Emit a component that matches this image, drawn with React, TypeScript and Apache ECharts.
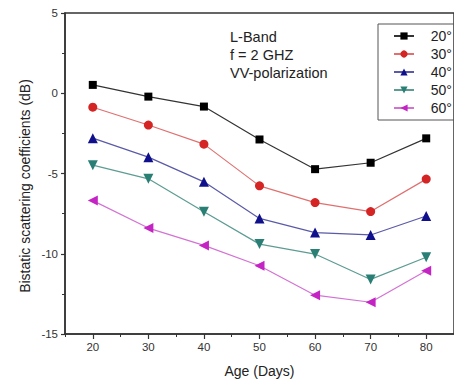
import React, { useEffect, useRef } from "react";
import * as echarts from "echarts";

const ages = [20, 30, 40, 50, 60, 70, 80];
const angleNames = ["20°", "30°", "40°", "50°", "60°"];
const s20 = [0.52, -0.21, -0.83, -2.88, -4.73, -4.33, -2.81];
const s30 = [-0.87, -1.98, -3.17, -5.77, -6.81, -7.37, -5.35];
const s40 = [-2.8, -3.98, -5.52, -7.8, -8.68, -8.83, -7.65];
const s50 = [-4.48, -5.33, -7.38, -9.4, -10.02, -11.6, -10.22];
const s60 = [-6.69, -8.4, -9.48, -10.75, -12.58, -13.02, -11.06];
const allSeries = [s20, s30, s40, s50, s60];

const markerColors = ["#000000", "#d42424", "#10108c", "#2a7f74", "#c424c4"];
const lineColors = ["#333333", "#e07070", "#5a5aa8", "#5c9c92", "#d472d4"];
const symbols = ["rect", "circle", "triangle", "triangle", "triangle"];
const symbolSizes = [8, 9, 10, 10, 10];
const symbolRotates = [0, 0, 0, 180, 90];

const FONT = "'Liberation Sans', Arial, sans-serif";

const gridBox = { left: 65, top: 13, bottom: 49, right: -5 };

export default function App() {
  const ref = useRef<HTMLDivElement>(null);
  useEffect(() => {
    if (!ref.current) return;
    const chart = echarts.init(ref.current, null, { renderer: "svg" });
    chart.setOption({
      animation: false,
      backgroundColor: "#ffffff",
      textStyle: { fontFamily: FONT },
      grid: [
        { ...gridBox, show: true, borderColor: "#333", borderWidth: 1.5 },
        { ...gridBox, show: false },
      ],
      legend: {
        orient: "vertical",
        left: 378,
        top: 24,
        padding: [5, 60, 5, 15],
        borderColor: "#555",
        borderWidth: 1,
        itemWidth: 20,
        itemHeight: 9,
        itemGap: 4,
        formatter: (name: string) => "   " + name,
        textStyle: { fontSize: 14, color: "#222", fontFamily: FONT },
        data: angleNames,
      },
      xAxis: [
        {
          type: "value",
          gridIndex: 0,
          min: 15,
          max: 85,
          interval: 5,
          name: "Age (Days)",
          nameLocation: "middle",
          nameGap: 30,
          nameTextStyle: { fontSize: 14, color: "#222", fontFamily: FONT },
          axisLine: { show: true, onZero: false, lineStyle: { color: "#333", width: 1.5 } },
          axisTick: { show: true, inside: false, length: 3, lineStyle: { color: "#333", width: 1 } },
          splitLine: { show: false },
          axisLabel: {
            fontSize: 11.5,
            color: "#333",
            margin: 7,
            fontFamily: FONT,
            customValues: ages,
          },
        },
        {
          type: "value",
          gridIndex: 1,
          min: 15,
          max: 85,
          position: "bottom",
          axisLine: { show: false, onZero: false },
          axisTick: {
            show: true,
            inside: false,
            length: 5,
            customValues: ages,
            lineStyle: { color: "#333", width: 1.2 },
          },
          axisLabel: { show: false },
          splitLine: { show: false },
        },
      ],
      yAxis: [
        {
          type: "value",
          gridIndex: 0,
          min: -15,
          max: 5,
          interval: 5,
          axisLine: { show: true, onZero: false, lineStyle: { color: "#333", width: 1.5 } },
          axisTick: { show: true, inside: false, length: 4, lineStyle: { color: "#333", width: 1.2 } },
          minorTick: { show: true, splitNumber: 2, length: 3, lineStyle: { color: "#333", width: 1 } },
          splitLine: { show: false },
          axisLabel: { fontSize: 11.5, color: "#333", margin: 7, fontFamily: FONT },
        },
        {
          type: "value",
          gridIndex: 1,
          min: -15,
          max: 5,
          axisLine: { show: false, onZero: false },
          axisTick: { show: false },
          axisLabel: { show: false },
          splitLine: { show: false },
        },
      ],
      graphic: [
        {
          type: "text",
          left: 230,
          top: 28,
          style: {
            text: "L-Band\nf = 2 GHZ\nVV-polarization",
            font: `14.5px ${FONT}`,
            fill: "#222",
            lineHeight: 18,
          },
        },
        {
          type: "text",
          x: 25,
          y: 186,
          rotation: Math.PI / 2,
          style: {
            text: "Bistatic scattering coefficients (dB)",
            font: `14px ${FONT}`,
            fill: "#222",
            align: "center",
            verticalAlign: "middle",
          },
        },
      ],
      series: allSeries.map((vals, i) => ({
        name: angleNames[i],
        type: "line",
        xAxisIndex: 0,
        yAxisIndex: 0,
        data: ages.map((a, j) => [a, vals[j]]),
        symbol: symbols[i],
        symbolSize: symbolSizes[i],
        symbolRotate: symbolRotates[i],
        showAllSymbol: true,
        lineStyle: { color: lineColors[i], width: 1.2 },
        itemStyle: { color: markerColors[i] },
      })),
    });
    return () => chart.dispose();
  }, []);
  return (
    <div
      ref={ref}
      style={{ position: "fixed", left: 0, top: 0, width: 454, height: 383, background: "#fff" }}
    />
  );
}
